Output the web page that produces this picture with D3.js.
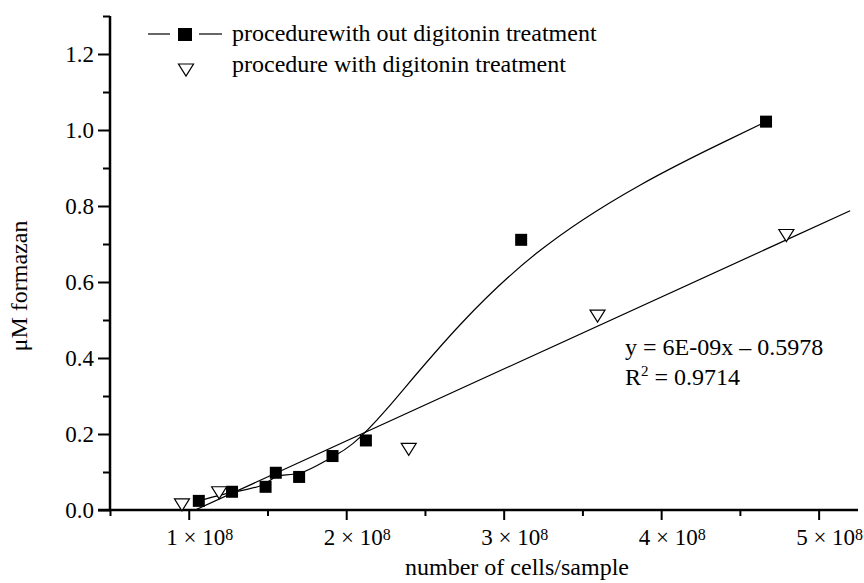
<!DOCTYPE html>
<html>
<head>
<meta charset="utf-8">
<script src="https://cdn.jsdelivr.net/npm/d3@7/dist/d3.min.js"></script>
<style>
  body { margin: 0; background: #fff; }
  svg text { font-family: "Liberation Serif", "Times New Roman", serif; fill: #000; }
</style>
</head>
<body>
<div id="chart"></div>
<script>
(function() {
"use strict"

// cells per sample vs formazan
var withoutX = [1.064e8, 1.275e8, 1.488e8, 1.553e8, 1.701e8, 1.913e8, 2.125e8, 3.111e8, 4.666e8];
var withoutY = [0.024, 0.048, 0.061, 0.098, 0.087, 0.142, 0.183, 0.711, 1.022];
var withX = [0.957e8, 1.193e8, 2.397e8, 3.596e8, 4.795e8];
var withY = [0.016, 0.048, 0.162, 0.513, 0.725];

var xMajor = [1e8, 2e8, 3e8, 4e8, 5e8];
var xMinor = [0.5e8, 1.5e8, 2.5e8, 3.5e8, 4.5e8];
var yMajor = [0, 0.2, 0.4, 0.6, 0.8, 1.0, 1.2];
var yMinor = [0.1, 0.3, 0.5, 0.7, 0.9, 1.1, 1.3];

var legendLabels = ["procedurewith out digitonin treatment", "procedure with digitonin treatment"];
var fitLabel = "y = 6E-09x \u2013 0.5978";
var r2Value = "0.9714";

var W = 864, H = 583;
var fs = 24, tfs = 23;

var svg = d3.select("#chart").append("svg")
    .attr("width", W)
    .attr("height", H);

var x = d3.scaleLinear().domain([0.5e8, 5.25e8]).range([110, 858]);
var y = d3.scaleLinear().domain([0, 1.3]).range([510, 16]);

// clip for the regression line
svg.append("clipPath").attr("id", "plotclip")
  .append("rect")
    .attr("x", x.range()[0]).attr("y", y.range()[1])
    .attr("width", x.range()[1] - x.range()[0])
    .attr("height", y.range()[0] - y.range()[1]);

// y axis
var yAx = svg.append("g").attr("transform", "translate(" + x.range()[0] + ",0)");
yAx.call(d3.axisLeft(y).tickValues(yMajor).tickSize(12).tickPadding(4)
    .tickFormat(d3.format(".1f")));
yAx.append("g").call(d3.axisLeft(y).tickValues(yMinor).tickSize(7).tickFormat(""))
    .select(".domain").remove();
yAx.selectAll("path.domain").attr("stroke-width", 2.5).attr("d", "M0," + y.range()[1] + "V" + y.range()[0]);
yAx.selectAll(".tick line").attr("stroke-width", 2);
yAx.attr("font-family", null);
yAx.selectAll("text").attr("font-size", tfs).attr("dy", "0.34em");

// x axis
var xAx = svg.append("g").attr("transform", "translate(0," + y.range()[0] + ")");
xAx.call(d3.axisBottom(x).tickValues(xMajor).tickSize(10).tickFormat(""));
xAx.append("g").call(d3.axisBottom(x).tickValues(xMinor).tickSize(6).tickFormat(""))
    .select(".domain").remove();
xAx.selectAll("path.domain").attr("stroke-width", 2.5).attr("d", "M98,0H" + x.range()[1]);
xAx.selectAll(".tick line").attr("stroke-width", 2);

var xl = svg.append("g").selectAll("text").data(xMajor).join("text")
    .attr("x", function(d) { return x(d) + 11; })
    .attr("y", 545)
    .attr("text-anchor", "middle")
    .attr("font-size", tfs);
xl.append("tspan").text(function(d) { return (d / 1e8) + " \u00d7 10"; });
xl.append("tspan").attr("font-size", 16).attr("dy", -5).text("8");

// axis titles
svg.append("text")
    .attr("x", 517)
    .attr("y", 575)
    .attr("text-anchor", "middle")
    .attr("font-size", fs)
    .text("number of cells/sample");

svg.append("text")
    .attr("transform", "translate(27,286) rotate(-90)")
    .attr("text-anchor", "middle")
    .attr("font-size", fs)
    .text("\u03bcM formazan");

// B-spline through the no-digitonin points
var without = withoutX.map(function(d, i) { return [d, withoutY[i]]; });
var withD = withX.map(function(d, i) { return [d, withY[i]]; });

var line = d3.line()
    .x(function(d) { return x(d[0]); })
    .y(function(d) { return y(d[1]); })
    .curve(d3.curveBasis);

svg.append("path")
    .attr("d", line(without))
    .attr("fill", "none")
    .attr("stroke", "#000")
    .attr("stroke-width", 1.2);

// least squares fit for digitonin points
var mx = d3.mean(withX), my = d3.mean(withY);
var sxy = d3.sum(withD, function(d) { return (d[0] - mx) * (d[1] - my); });
var sxx = d3.sum(withX, function(d) { return (d - mx) * (d - mx); });
var slope = sxy / sxx, icpt = my - slope * mx;
var fitEnds = [d3.min(withX), 5.2e8];

svg.append("line")
    .attr("clip-path", "url(#plotclip)")
    .attr("x1", x(fitEnds[0])).attr("y1", y(slope * fitEnds[0] + icpt))
    .attr("x2", x(fitEnds[1])).attr("y2", y(slope * fitEnds[1] + icpt))
    .attr("stroke", "#000")
    .attr("stroke-width", 1.2);

// markers
var sq = 12;
svg.append("g").selectAll("rect").data(without).join("rect")
    .attr("x", function(d) { return x(d[0]) - sq / 2; })
    .attr("y", function(d) { return y(d[1]) - sq / 2; })
    .attr("width", sq).attr("height", sq)
    .attr("fill", "#000");

var tri = function(cx, cy) {
    return "M" + (cx - 7.5) + "," + (cy - 5) + "L" + (cx + 7.5) + "," + (cy - 5) + "L" + cx + "," + (cy + 7) + "Z";
};
svg.append("g").selectAll("path").data(withD).join("path")
    .attr("d", function(d) { return tri(x(d[0]), y(d[1])); })
    .attr("fill", "#fff")
    .attr("stroke", "#000")
    .attr("stroke-width", 1.2);

// equation
svg.append("text").attr("x", 625).attr("y", 355).attr("font-size", fs).text(fitLabel);
var r2 = svg.append("text").attr("x", 625).attr("y", 385).attr("font-size", fs);
r2.append("tspan").text("R");
r2.append("tspan").attr("font-size", 15).attr("dy", -9).text("2");
r2.append("tspan").attr("dy", 9).text(" = " + r2Value);

// legend
var leg = svg.append("g");
leg.append("line").attr("x1", 148).attr("x2", 170).attr("y1", 34).attr("y2", 34).attr("stroke", "#000").attr("stroke-width", 1.2);
leg.append("line").attr("x1", 199).attr("x2", 222).attr("y1", 34).attr("y2", 34).attr("stroke", "#000").attr("stroke-width", 1.2);
leg.append("rect").attr("x", 178).attr("y", 28).attr("width", 14).attr("height", 13).attr("fill", "#000");
leg.append("path").attr("d", tri(186, 69)).attr("fill", "#fff").attr("stroke", "#000").attr("stroke-width", 1.2);
leg.selectAll("text").data(legendLabels).join("text")
    .attr("x", 232)
    .attr("y", function(d, i) { return 41 + i * 31; })
    .attr("font-size", fs)
    .text(function(d) { return d; });

})();
</script>
</body>
</html>
